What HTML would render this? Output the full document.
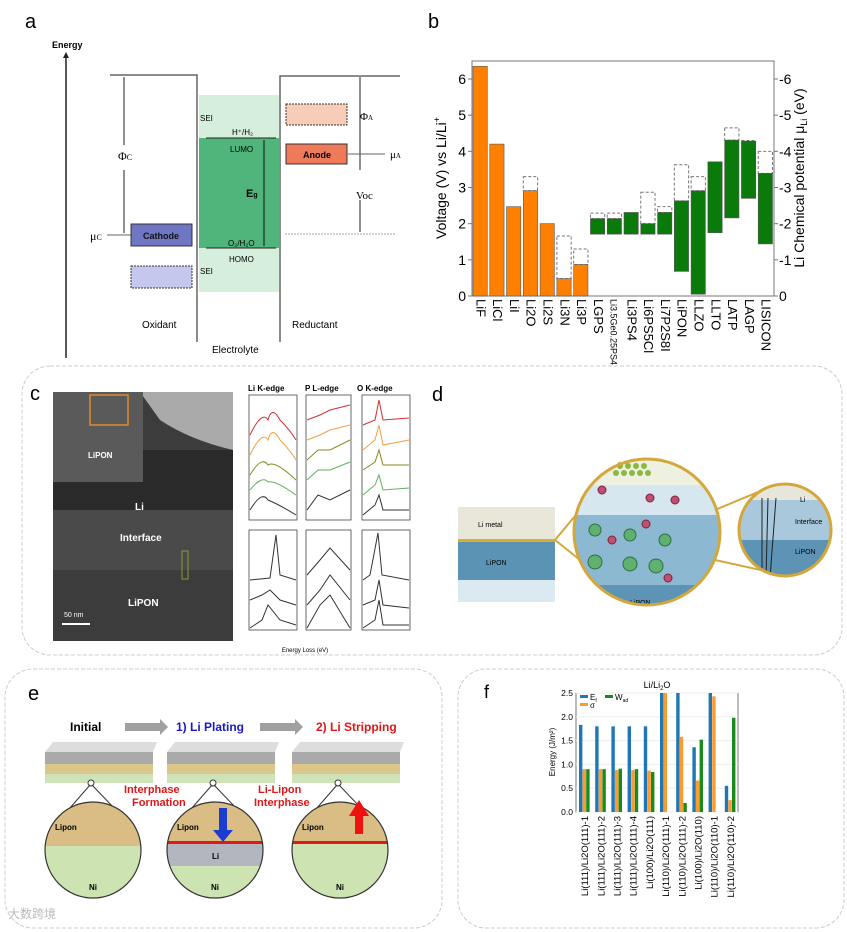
<!DOCTYPE html>
<html><head><meta charset="utf-8"><style>
html,body{margin:0;padding:0;background:#fff}
svg{display:block;font-family:"Liberation Sans","Noto Sans CJK SC",sans-serif}
</style></head><body>
<svg id="fig" width="847" height="932" viewBox="0 0 847 932">
<g>
<text x="25" y="28" font-size="20">a</text>
<text x="52" y="48" font-size="9" font-weight="bold">Energy</text>
<line x1="66" y1="358" x2="66" y2="56" stroke="#222" stroke-width="1.5"/><polygon points="63,58 66,52 69,58" fill="#222"/>
<rect x="199" y="95" width="80" height="197" fill="#d6eedc"/>
<rect x="199" y="138" width="80" height="110" fill="#4fb57a"/>
<polyline points="110,75 197,75 197,342" fill="none" stroke="#666" stroke-width="1.5"/>
<polyline points="280,342 280,76 400,76" fill="none" stroke="#666" stroke-width="1.5"/>
<line x1="206" y1="138" x2="276" y2="138" stroke="#222"/><line x1="206" y1="248" x2="276" y2="248" stroke="#222"/>
<line x1="285" y1="234" x2="395" y2="234" stroke="#aaa" stroke-dasharray="2,1"/>
<line x1="124" y1="77" x2="124" y2="233" stroke="#222"/>
<rect x="113" y="145" width="22" height="25" fill="#fff"/>
<text x="118" y="160" font-size="12" font-family="Liberation Serif,serif">Φ<tspan font-size="8">C</tspan></text>
<text x="90" y="240" font-size="12" font-family="Liberation Serif,serif">μ<tspan font-size="8">C</tspan></text>
<line x1="107" y1="235" x2="131" y2="235" stroke="#666"/>
<rect x="131" y="224" width="61" height="22" fill="#6f76c4" stroke="#333"/>
<text x="161" y="239" font-size="9" font-weight="bold" text-anchor="middle" fill="#111">Cathode</text>
<rect x="131" y="266" width="61" height="22" fill="#c5c8ec" stroke="#333" stroke-dasharray="2,1"/>
<text x="200" y="121" font-size="8">SEI</text><text x="200" y="274" font-size="8">SEI</text>
<text x="232" y="135" font-size="8">H⁺/H₂</text><text x="230" y="152" font-size="8">LUMO</text>
<text x="246" y="197" font-size="11" font-weight="bold">E<tspan font-size="7">g</tspan></text>
<text x="228" y="246" font-size="8">O₂/H₂O</text><text x="229" y="262" font-size="8">HOMO</text>
<line x1="264" y1="140" x2="264" y2="246" stroke="#111"/>
<rect x="286" y="104" width="61" height="21" fill="#f8cdb8" stroke="#333" stroke-dasharray="2,1"/>
<rect x="286" y="144" width="61" height="20" fill="#ee7a5a" stroke="#333"/>
<text x="317" y="158" font-size="9" font-weight="bold" text-anchor="middle">Anode</text>
<line x1="360" y1="77" x2="360" y2="232" stroke="#222"/>
<rect x="352" y="170" width="22" height="30" fill="#fff"/>
<text x="356" y="199" font-size="11" font-family="Liberation Serif,serif">Voc</text>
<text x="360" y="120" font-size="11" font-family="Liberation Serif,serif">Φ<tspan font-size="7">A</tspan></text>
<line x1="348" y1="154" x2="385" y2="154" stroke="#666"/>
<text x="390" y="158" font-size="11" font-family="Liberation Serif,serif">μ<tspan font-size="7">A</tspan></text>
<text x="142" y="328" font-size="10">Oxidant</text><text x="292" y="328" font-size="10">Reductant</text>
<text x="212" y="353" font-size="10">Electrolyte</text>
</g>
<g id="pb">
<text x="428" y="28" font-size="20">b</text>
<rect x="472" y="61" width="302" height="235" fill="none" stroke="#777"/>
<text transform="translate(446,178) rotate(-90)" font-size="14" text-anchor="middle">Voltage (V) vs Li/Li<tspan font-size="9" dy="-6">+</tspan></text>
<text transform="translate(804,178) rotate(-90)" font-size="14" text-anchor="middle">Li Chemical potential μ<tspan font-size="9" dy="3">Li</tspan><tspan dy="-3"> (eV)</tspan></text>
</g>
<rect x="22" y="366" width="820" height="289" rx="28" fill="none" stroke="#ccc" stroke-dasharray="4,2"/>
<g>
<text x="30" y="400" font-size="20">c</text>
<rect x="53" y="392" width="180" height="249" fill="#3c3c3c"/>
<rect x="53" y="450" width="180" height="60" fill="#2a2a2a"/>
<rect x="53" y="510" width="180" height="60" fill="#4a4a4a"/>
<path d="M140,392 L233,392 L233,450 Q190,440 160,420 Z" fill="#aaa"/>
<rect x="53" y="392" width="90" height="90" fill="#5a5a5a"/>
<rect x="90" y="395" width="38" height="30" fill="none" stroke="#e08a30" stroke-width="1.5"/>
<text x="88" y="458" font-size="8" font-weight="bold" fill="#fff">LiPON</text>
<text x="135" y="510" font-size="10" font-weight="bold" fill="#fff">Li</text>
<text x="120" y="541" font-size="10" font-weight="bold" fill="#fff">Interface</text>
<text x="128" y="606" font-size="10" font-weight="bold" fill="#fff">LiPON</text>
<text x="64" y="617" font-size="7" fill="#fff">50 nm</text><line x1="62" y1="624" x2="90" y2="624" stroke="#fff" stroke-width="2"/>
<rect x="182" y="551" width="6" height="28" fill="none" stroke="#8a9a30"/>
<g font-size="8" font-weight="bold"><text x="248" y="391">Li K-edge</text><text x="305" y="391">P L-edge</text><text x="357" y="391">O K-edge</text></g>
<g fill="none" stroke="#444" stroke-width="0.8">
<rect x="249" y="395" width="48" height="125"/><rect x="306" y="395" width="45" height="125"/><rect x="362" y="395" width="48" height="125"/>
<rect x="249" y="530" width="48" height="100"/><rect x="306" y="530" width="45" height="100"/><rect x="362" y="530" width="48" height="100"/>
</g>
<g fill="none" stroke-width="1">
<path d="M250,435 Q262,410 268,420 Q272,405 280,420 Q290,430 296,440" stroke="#d03030"/>
<path d="M250,455 Q262,430 268,440 Q272,425 280,440 Q290,450 296,460" stroke="#f0a040"/>
<path d="M250,475 Q262,455 268,465 Q275,460 296,480" stroke="#8a8a20"/>
<path d="M250,490 Q262,475 268,482 Q275,480 296,495" stroke="#60b060"/>
<path d="M250,510 Q262,490 268,500 Q280,505 296,515" stroke="#333"/>
<path d="M307,420 L320,415 L330,410 L350,405" stroke="#d03030"/>
<path d="M307,440 L320,435 L330,430 L350,425" stroke="#f0a040"/>
<path d="M307,460 L318,450 L330,450 L350,440" stroke="#8a8a20"/>
<path d="M307,480 L318,470 L330,470 L350,462" stroke="#60b060"/>
<path d="M307,510 L318,495 L330,500 L350,490" stroke="#333"/>
<path d="M363,425 L375,420 L379,400 L383,420 L409,418" stroke="#d03030"/>
<path d="M363,450 L375,440 L379,425 L383,445 L409,440" stroke="#f0a040"/>
<path d="M363,470 L375,462 L379,450 L383,465 L409,465" stroke="#8a8a20"/>
<path d="M363,495 L375,485 L379,475 L383,490 L409,488" stroke="#60b060"/>
<path d="M363,515 L375,505 L379,495 L383,510 L409,510" stroke="#333"/>
<path d="M250,580 L270,578 L276,535 L280,575 L296,580" stroke="#333"/>
<path d="M250,600 L262,595 L270,590 L280,600 L296,605" stroke="#333"/>
<path d="M250,628 L262,620 L268,605 L280,620 L296,625" stroke="#333"/>
<path d="M307,575 L320,560 L330,548 L350,570" stroke="#333"/>
<path d="M307,605 L320,590 L330,575 L350,600" stroke="#333"/>
<path d="M307,628 L320,605 L330,595 L350,628" stroke="#333"/>
<path d="M363,580 L370,575 L378,533 L382,575 L409,580" stroke="#333"/>
<path d="M363,605 L375,600 L379,580 L383,605 L409,608" stroke="#333"/>
<path d="M363,628 L375,620 L379,600 L383,625 L409,625" stroke="#333"/>
</g>
<text x="305" y="652" font-size="6" text-anchor="middle">Energy Loss (eV)</text>
</g>
<g>
<text x="432" y="401" font-size="20">d</text>
<rect x="458" y="507" width="97" height="32" fill="#e8e7da"/>
<rect x="458" y="539" width="97" height="3" fill="#d8b030"/>
<rect x="458" y="542" width="97" height="38" fill="#5b93b5"/>
<rect x="458" y="580" width="97" height="22" fill="#dbe9f1"/>
<text x="478" y="527" font-size="7">Li metal</text><text x="486" y="565" font-size="7">LiPON</text>
<defs><clipPath id="c1"><circle cx="647" cy="532" r="73"/></clipPath><clipPath id="c2"><circle cx="785" cy="530" r="46"/></clipPath></defs>
<line x1="555" y1="540" x2="620" y2="462" stroke="#d4a73a" stroke-width="2"/><line x1="555" y1="540" x2="630" y2="600" stroke="#d4a73a" stroke-width="2"/>
<line x1="715" y1="510" x2="770" y2="487" stroke="#d4a73a" stroke-width="2"/><line x1="715" y1="560" x2="770" y2="572" stroke="#d4a73a" stroke-width="2"/>
<g clip-path="url(#c1)">
<rect x="570" y="455" width="160" height="30" fill="#eef0e0"/>
<rect x="570" y="485" width="160" height="30" fill="#d6e7f0"/>
<rect x="570" y="515" width="160" height="70" fill="#8db8d2"/>
<rect x="570" y="585" width="160" height="30" fill="#5d93b4"/>
<g fill="#8ab840"><circle cx="612" cy="466" r="3"/><circle cx="620" cy="466" r="3"/><circle cx="628" cy="466" r="3"/><circle cx="636" cy="466" r="3"/><circle cx="644" cy="466" r="3"/><circle cx="616" cy="473" r="3"/><circle cx="624" cy="473" r="3"/><circle cx="632" cy="473" r="3"/><circle cx="640" cy="473" r="3"/><circle cx="648" cy="473" r="3"/></g>
<g fill="#c05070" stroke="#802040"><circle cx="602" cy="490" r="4"/><circle cx="650" cy="498" r="4"/><circle cx="675" cy="500" r="4"/><circle cx="612" cy="540" r="4"/><circle cx="646" cy="524" r="4"/><circle cx="668" cy="578" r="4"/></g>
<g fill="#60b070" stroke="#2a7040"><circle cx="595" cy="530" r="6"/><circle cx="630" cy="535" r="6"/><circle cx="665" cy="540" r="6"/><circle cx="595" cy="562" r="7"/><circle cx="630" cy="564" r="7"/><circle cx="656" cy="566" r="7"/></g>
<text x="630" y="605" font-size="7">LiPON</text>
</g>
<circle cx="647" cy="532" r="73" fill="none" stroke="#d4a73a" stroke-width="3"/>
<g clip-path="url(#c2)">
<rect x="735" y="480" width="100" height="20" fill="#e6e6da"/>
<rect x="735" y="500" width="100" height="40" fill="#a9c8dc"/>
<rect x="735" y="540" width="100" height="40" fill="#5d93b4"/>
<path d="M762,498 L762,578 M768,498 L766,578 M776,498 L770,578" stroke="#222" fill="none"/>
<text x="795" y="524" font-size="7">Interface</text><text x="795" y="554" font-size="7">LiPON</text><text x="800" y="502" font-size="7">Li</text>
</g>
<circle cx="785" cy="530" r="46" fill="none" stroke="#d4a73a" stroke-width="3"/>
</g>
<rect x="5" y="669" width="437" height="259" rx="28" fill="none" stroke="#ccc" stroke-dasharray="4,2"/>
<g>
<text x="28" y="700" font-size="20">e</text>
<text x="70" y="731" font-size="12" font-weight="bold">Initial</text>
<polygon points="125,723 160,723 160,719 168,727 160,735 160,731 125,731" fill="#a0a0a0"/>
<text x="176" y="731" font-size="12" font-weight="bold" fill="#1a1ac8">1) Li Plating</text>
<polygon points="260,723 295,723 295,719 303,727 295,735 295,731 260,731" fill="#a0a0a0"/>
<text x="316" y="731" font-size="12" font-weight="bold" fill="#e01818">2) Li Stripping</text>
<g id="slabs"></g>
<text x="124" y="793" font-size="11" font-weight="bold" fill="#e01818">Interphase</text>
<text x="132" y="806" font-size="11" font-weight="bold" fill="#e01818">Formation</text>
<text x="258" y="793" font-size="11" font-weight="bold" fill="#e01818">Li-Lipon</text>
<text x="254" y="806" font-size="11" font-weight="bold" fill="#e01818">Interphase</text>
<text x="8" y="918" font-size="12" fill="#bbb">大数跨境</text>
</g>
<rect x="458" y="669" width="386" height="259" rx="28" fill="none" stroke="#ccc" stroke-dasharray="4,2"/>
<g id="pf">
<text x="484" y="698" font-size="18">f</text>
<text x="657" y="688" font-size="9" text-anchor="middle">Li/Li<tspan font-size="6" dy="2">2</tspan><tspan dy="-2">O</tspan></text>
<rect x="576" y="693" width="162" height="119" fill="none" stroke="#777"/>
<text transform="translate(555,752) rotate(-90)" font-size="8" text-anchor="middle">Energy (J/m²)</text>
</g>
</svg>
<script>
var NS="http://www.w3.org/2000/svg";
function mk(p,t,a){var e=document.createElementNS(NS,t);for(var k in a)e.setAttribute(k,a[k]);p.appendChild(e);return e;}
var bCats=["LiF","LiCl","LiI","Li2O","Li2S","Li3N","Li3P","LGPS","Li3.5Ge0.25PS4","Li3PS4","Li6PS5Cl","Li7P2S8I","LiPON","LLZO","LLTO","LATP","LAGP","LISICON"];
var bLow=[0,0,0,0,0,0,0,1.71,1.71,1.71,1.71,1.71,0.68,0.05,1.75,2.16,2.7,1.44];
var bHigh=[6.35,4.2,2.47,2.91,2.0,0.48,0.87,2.14,2.14,2.31,2.0,2.31,2.63,2.91,3.71,4.31,4.28,3.39];
var bDash=[null,null,null,3.3,null,1.66,1.3,2.29,2.29,null,2.87,2.47,3.63,3.3,null,4.65,4.3,4.0];
var bTicks=[0,1,2,3,4,5,6];
var bOrange=7;
var pb=document.getElementById('pb');
function byB(v){return 296-v*(296-79)/6;}
function bx(i){return 472+i*302/bCats.length;}
bTicks.forEach(function(t){
 var l=mk(pb,'line',{x1:468,x2:472,y1:byB(t),y2:byB(t),stroke:'#777'});
 
 
 var tx=mk(pb,'text',{x:466,y:byB(t)+5,'font-size':14,'text-anchor':'end'});tx.textContent=t;
 
 
 var l2=mk(pb,'line',{x1:774,x2:778,y1:byB(t),y2:byB(t),stroke:'#777'});
 
 
 var tx2=mk(pb,'text',{x:779,y:byB(t)+5,'font-size':14});tx2.textContent=t?('-'+t):'0';
 
 
});
var bw=302/bCats.length;
bCats.forEach(function(c,i){
 var x=bx(i)+1;
 if(bDash[i]!=null){var d=mk(pb,'rect',{x:x,y:byB(bDash[i]),width:bw-2.5,height:byB(bHigh[i])-byB(bDash[i]),fill:'none',stroke:'#777','stroke-dasharray':'3,2'});
  
  }
 var r=mk(pb,'rect',{x:x,y:byB(bHigh[i]),width:bw-2.5,height:byB(bLow[i])-byB(bHigh[i]),fill:i<bOrange?'#ff8000':'#0a7a0a',stroke:'#555','stroke-width':0.6});
 
 
 var t=mk(pb,'text',{transform:'translate('+(x+bw/2-5)+',299) rotate(90)','font-size':c.length>8?9:13});
 t.textContent=c;
 
 
});
var fCats=["Li(111)/Li2O(111)-1","Li(111)/Li2O(111)-2","Li(111)/Li2O(111)-3","Li(111)/Li2O(111)-4","Li(100)/Li2O(111)","Li(110)/Li2O(111)-1","Li(110)/Li2O(111)-2","Li(100)/Li2O(110)","Li(110)/Li2O(110)-1","Li(110)/Li2O(110)-2"];
var fEf=[1.83,1.8,1.8,1.8,1.8,2.5,2.5,1.36,2.5,0.55];
var fSigma=[0.9,0.9,0.88,0.88,0.87,2.5,1.58,0.66,2.43,0.25];
var fWad=[0.9,0.9,0.91,0.9,0.84,0,0.19,1.52,0,1.98];
var fTicks=[0,0.5,1.0,1.5,2.0,2.5];
var pf=document.getElementById('pf');
function fy(v){return 812-Math.min(v,2.5)*(812-693)/2.5;}
var gw=162/fCats.length;
fTicks.forEach(function(t){
 var g=mk(pf,'line',{x1:576,x2:738,y1:fy(t),y2:fy(t),stroke:'#eee'});
 
 
 var tx=mk(pf,'text',{x:573,y:fy(t)+3,'font-size':8.5,'text-anchor':'end'});tx.textContent=t.toFixed(1);
 
 
});
var fSeries=[[fEf,'#1f77b4'],[fSigma,'#ff9a2e'],[fWad,'#1a8a1a']];
fCats.forEach(function(c,i){
 fSeries.forEach(function(s,j){
  var v=s[0][i]; if(!v)return;
  var r=mk(pf,'rect',{x:576+i*gw+3+j*3.6,y:fy(v),width:3.4,height:812-fy(v),fill:s[1]});
  
  
 });
 var t=mk(pf,'text',{transform:'translate('+(576+i*gw+gw/2+4)+',816) rotate(-90)','font-size':9.5,'text-anchor':'end'});
 t.textContent=c;
 
 
});
var lg=[[580,697,'#1f77b4','E','f'],[580,705,'#ff9a2e','σ',''],[605,697,'#1a8a1a','W','ad']];
lg.forEach(function(l){
 var r=mk(pf,'rect',{x:l[0],y:l[1]-2,width:8,height:3,fill:l[2]});
 
 
 var t=mk(pf,'text',{x:l[0]+10,y:l[1]+3,'font-size':8});t.textContent=l[3];
 
 
 var s=mk(t,'tspan',{'font-size':5,dy:2});s.textContent=l[4];
});
var sl=document.getElementById('slabs');
[[45,0],[167,1],[292,2]].forEach(function(p){
 var x=p[0],k=p[1];
 mk(sl,'polygon',{points:x+',752 '+(x+8)+',742 '+(x+112)+',742 '+(x+108)+',752',fill:'#ddd'});
 mk(sl,'rect',{x:x,y:752,width:108,height:12,fill:'#aaa'});
 mk(sl,'rect',{x:x,y:764,width:108,height:10,fill:'#dcc78a'});
 mk(sl,'rect',{x:x,y:774,width:108,height:9,fill:'#cfe3b8'});
 var cx=x+48,cy=850,r=48;
 mk(sl,'circle',{cx:x+46,cy:783,r:3,fill:'#fff',stroke:'#333'});
 mk(sl,'line',{x1:x+45,y1:785,x2:cx-r+4,y2:cy-18,stroke:'#333'});
 mk(sl,'line',{x1:x+47,y1:785,x2:cx+r-4,y2:cy-18,stroke:'#333'});
 var cp=mk(sl,'clipPath',{id:'ec'+k});mk(cp,'circle',{cx:cx,cy:cy,r:r});
 var g=mk(sl,'g',{'clip-path':'url(#ec'+k+')'});
 
 
 mk(g,'rect',{x:cx-r,y:cy-r,width:2*r,height:r+(k==0?-4:-8),fill:'#d9bd85'});
 mk(g,'rect',{x:cx-r,y:cy-(k==0?4:8),width:2*r,height:r+10,fill:'#cde3b2'});
 if(k==1){mk(g,'rect',{x:cx-r,y:cy-6,width:2*r,height:22,fill:'#b4b6bf'});}
 if(k>0){mk(g,'rect',{x:cx-r,y:cy-9,width:2*r,height:3,fill:'#e01818'});}
 mk(sl,'circle',{cx:cx,cy:cy,r:r,fill:'none',stroke:'#333','stroke-width':1.2});
 var t=mk(sl,'text',{x:cx-38,y:cy-20,'font-size':8,'font-weight':'bold'});t.textContent='Lipon';
 var n=mk(sl,'text',{x:cx-4,y:cy+40,'font-size':8,'font-weight':'bold'});n.textContent='Ni';
 if(k==1){var li=mk(sl,'text',{x:cx-3,y:cy+9,'font-size':8,'font-weight':'bold'});li.textContent='Li';
  mk(sl,'polygon',{points:(cx+4)+',808 '+(cx+12)+',808 '+(cx+12)+',830 '+(cx+18)+',830 '+(cx+8)+',842 '+(cx-2)+',830 '+(cx+4)+',830',fill:'#1a3cd0'});}
 if(k==2){mk(sl,'polygon',{points:(cx+15)+',834 '+(cx+23)+',834 '+(cx+23)+',816 '+(cx+29)+',816 '+(cx+19)+',800 '+(cx+9)+',816 '+(cx+15)+',816',fill:'#f01010'});}
});
</script>
</body></html>
